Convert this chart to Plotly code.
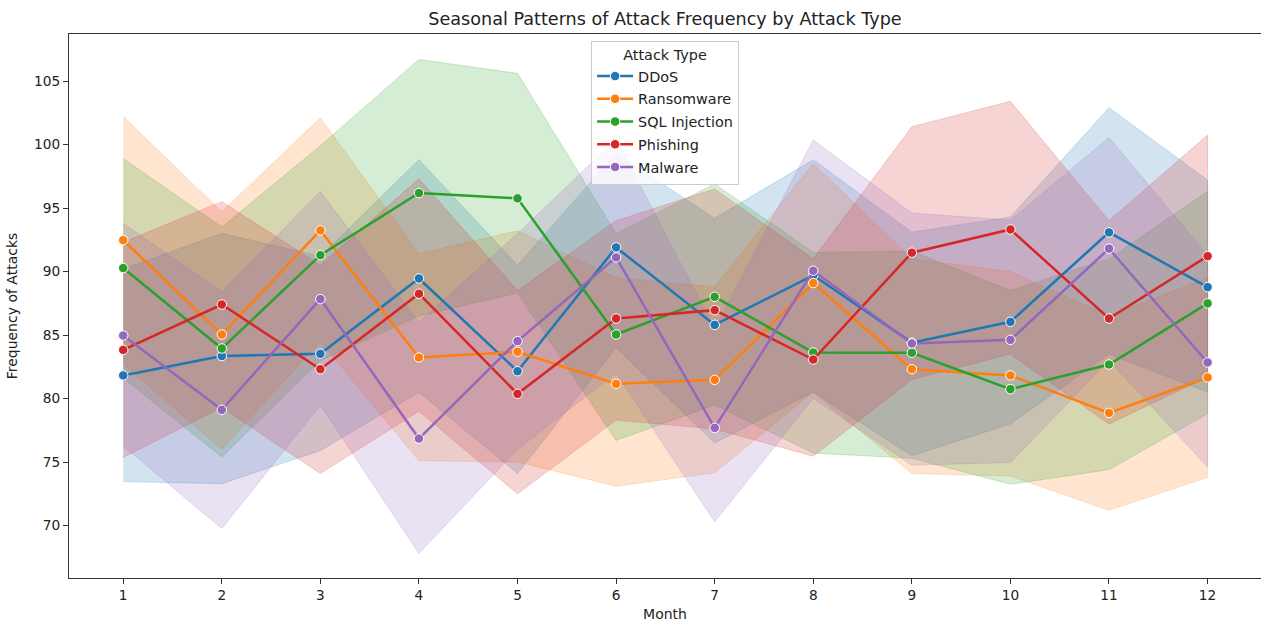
import plotly.graph_objects as go

# Months on the x axis
months = list(range(1, 13))

# Mean attack frequency per month for each attack type
ddos_mean = [81.82, 83.34, 83.52, 89.45, 82.15, 91.90, 85.80, 89.70, 84.40, 86.04, 93.08, 88.77]
ransomware_mean = [92.47, 85.04, 93.24, 83.23, 83.68, 81.16, 81.47, 89.09, 82.31, 81.82, 78.87, 81.66]
sql_mean = [90.27, 83.94, 91.29, 96.18, 95.76, 85.04, 88.01, 83.62, 83.60, 80.74, 82.68, 87.49]
phishing_mean = [83.83, 87.40, 82.31, 88.25, 80.37, 86.30, 86.96, 83.07, 91.48, 93.31, 86.30, 91.21]
malware_mean = [84.96, 79.11, 87.83, 76.85, 84.52, 91.11, 77.69, 90.06, 84.33, 84.62, 91.80, 82.84]

# 95% confidence interval bounds per month
ddos_upper = [90.2, 93.0, 91.2, 98.8, 90.5, 99.3, 94.2, 98.8, 93.1, 94.3, 102.9, 97.2]
ddos_lower = [73.46, 73.3, 75.9, 80.5, 74.1, 84.0, 76.5, 80.5, 75.5, 78.0, 83.5, 80.5]
ransomware_upper = [102.2, 94.7, 102.1, 91.4, 93.2, 89.5, 88.8, 98.5, 91.0, 90.0, 86.5, 89.5]
ransomware_lower = [82.7, 76.0, 84.5, 75.1, 75.0, 73.1, 74.15, 80.5, 74.1, 73.9, 71.2, 73.8]
sql_upper = [98.9, 93.5, 99.9, 106.7, 105.6, 93.0, 96.9, 91.5, 91.6, 88.5, 91.0, 96.3]
sql_lower = [81.6, 75.4, 83.0, 86.5, 88.3, 76.7, 79.5, 75.7, 75.3, 73.25, 74.4, 78.8]
phishing_upper = [92.3, 95.5, 90.5, 97.3, 88.5, 94.0, 96.5, 91.0, 101.4, 103.4, 94.0, 100.75]
phishing_lower = [75.36, 79.3, 74.1, 79.0, 72.5, 78.3, 77.6, 75.46, 81.5, 83.5, 78.0, 81.7]
malware_upper = [93.8, 88.4, 96.3, 86.0, 93.0, 100.4, 85.5, 100.35, 94.6, 94.05, 100.56, 91.3]
malware_lower = [76.27, 69.76, 79.48, 67.8, 76.0, 82.0, 70.3, 80.0, 74.75, 74.96, 83.0, 74.6]

attack_types = ["DDoS", "Ransomware", "SQL Injection", "Phishing", "Malware"]
colors = ["#1f77b4", "#ff7f0e", "#2ca02c", "#d62728", "#9467bd"]
means = [ddos_mean, ransomware_mean, sql_mean, phishing_mean, malware_mean]
uppers = [ddos_upper, ransomware_upper, sql_upper, phishing_upper, malware_upper]
lowers = [ddos_lower, ransomware_lower, sql_lower, phishing_lower, malware_lower]


def rgba(hex_color, alpha):
    h = hex_color.lstrip("#")
    r, g, b = int(h[0:2], 16), int(h[2:4], 16), int(h[4:6], 16)
    return f"rgba({r},{g},{b},{alpha})"


fig = go.Figure()

# Confidence bands underneath all lines
for name, col, up, lo in zip(attack_types, colors, uppers, lowers):
    fig.add_trace(go.Scatter(
        x=months + months[::-1],
        y=up + lo[::-1],
        fill="toself",
        fillcolor=rgba(col, 0.2),
        line=dict(color=rgba(col, 0.2), width=1),
        mode="lines",
        hoverinfo="skip",
        showlegend=False,
    ))

# Mean lines with markers
for name, col, m in zip(attack_types, colors, means):
    fig.add_trace(go.Scatter(
        x=months,
        y=m,
        mode="lines+markers",
        name=name,
        legendgroup=name,
        line=dict(color=col, width=2.5),
        marker=dict(color=col, size=9.5, line=dict(color="white", width=1)),
    ))

tick_font = dict(family="DejaVu Sans", size=13.7, color="#222222")
label_font = dict(family="DejaVu Sans", size=14, color="#222222")

fig.update_layout(
    width=1261,
    height=628,
    margin=dict(l=69, r=0, t=34, b=50),
    paper_bgcolor="white",
    plot_bgcolor="white",
    font=dict(family="DejaVu Sans", color="#222222"),
    title=dict(
        text="Seasonal Patterns of Attack Frequency by Attack Type",
        x=0.5, xref="paper", xanchor="center",
        y=1 - 19 / 628, yref="container", yanchor="middle",
        font=dict(family="DejaVu Sans", size=17.6, color="#222222"),
    ),
    xaxis=dict(
        range=[0.45, 12.542],
        tickmode="array",
        tickvals=months,
        ticktext=[str(v) for v in months],
        showgrid=False,
        zeroline=False,
        showline=True,
        linecolor="#333333",
        linewidth=1,
        mirror=True,
        ticks="outside",
        ticklen=5,
        tickcolor="#333333",
        tickfont=tick_font,
        title=dict(text="Month", font=label_font, standoff=6),
    ),
    yaxis=dict(
        range=[65.87, 108.70],
        tickmode="array",
        tickvals=[70, 75, 80, 85, 90, 95, 100, 105],
        showgrid=False,
        zeroline=False,
        showline=True,
        linecolor="#333333",
        linewidth=1,
        ticks="outside",
        ticklen=5,
        tickcolor="#333333",
        tickfont=tick_font,
        title=dict(text="Frequency of Attacks", font=label_font, standoff=13),
    ),
    legend=dict(
        title=dict(text="Attack Type", side="top center", font=dict(family="DejaVu Sans", size=14.4, color="#222222")),
        x=0.438, xanchor="left",
        y=0.988, yanchor="top",
        bgcolor="rgba(255,255,255,0.8)",
        bordercolor="#cccccc",
        borderwidth=1,
        font=dict(family="DejaVu Sans", size=14.4, color="#222222"),
        tracegroupgap=1,
        itemwidth=36,
    ),
    showlegend=True,
)

fig.write_html("out.html")
